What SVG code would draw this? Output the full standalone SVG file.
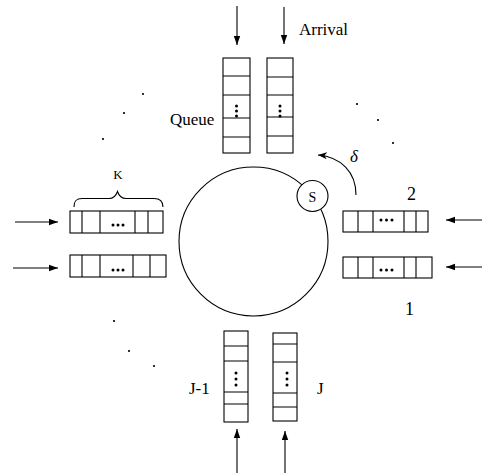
<svg xmlns="http://www.w3.org/2000/svg" width="482" height="473" viewBox="0 0 482 473">
<defs>
<marker id="ah" markerWidth="10" markerHeight="8" refX="9" refY="4" orient="auto" markerUnits="userSpaceOnUse">
<path d="M0,0.8 L9,4 L0,7.2 Z" fill="#000"/>
</marker>
<marker id="ah2" markerWidth="10" markerHeight="8" refX="9" refY="4" orient="auto" markerUnits="userSpaceOnUse">
<path d="M0,0.5 L9,4 L0,7.5 L2.5,4 Z" fill="#000"/>
</marker>
</defs>
<style>
.q{fill:#fff;stroke:#000;stroke-width:1.1}
.ln{stroke:#000;stroke-width:1.1;fill:none}
.ar{stroke:#000;stroke-width:1.1;fill:none;marker-end:url(#ah)}
.t{font-family:"Liberation Serif","Times New Roman",serif;fill:#000}
.d{fill:#000}
</style>
<rect width="482" height="473" fill="#fff"/>

<g id="server-ring">
<circle cx="253.5" cy="241.5" r="74.5" class="ln"/>
</g>
<g id="server-S">
<circle cx="312.5" cy="196" r="15.5" fill="#fff" stroke="#000" stroke-width="1.1"/>
<text x="312.5" y="201.5" class="t" font-size="14" text-anchor="middle">S</text>
</g>

<g id="queue-top-left">
<rect x="223" y="58" width="27" height="95" class="q"/>
<path d="M223,76H250M223,95H250M223,118H250M223,137H250" class="ln"/>
<circle cx="236.5" cy="106" r="1.5" class="d"/><circle cx="236.5" cy="111" r="1.5" class="d"/><circle cx="236.5" cy="116" r="1.5" class="d"/>
</g>
<g id="queue-top-right">
<rect x="267" y="58" width="26" height="95" class="q"/>
<path d="M267,77H293M267,95H293M267,117H293M267,136H293" class="ln"/>
<circle cx="280" cy="106" r="1.5" class="d"/><circle cx="280" cy="111" r="1.5" class="d"/><circle cx="280" cy="116" r="1.5" class="d"/>
</g>

<g id="queue-left-1">
<rect x="70" y="211" width="93" height="22" class="q"/>
<path d="M82,211V233M100,211V233M135,211V233M148,211V233" class="ln"/>
<circle cx="113" cy="225" r="1.5" class="d"/><circle cx="118" cy="225" r="1.5" class="d"/><circle cx="123" cy="225" r="1.5" class="d"/>
</g>
<g id="queue-left-2">
<rect x="70" y="255" width="96" height="22" class="q"/>
<path d="M82,255V277M100,255V277M133,255V277M150,255V277" class="ln"/>
<circle cx="113" cy="270" r="1.5" class="d"/><circle cx="118" cy="270" r="1.5" class="d"/><circle cx="123" cy="270" r="1.5" class="d"/>
</g>

<g id="queue-right-2">
<rect x="343" y="211" width="85" height="21" class="q"/>
<path d="M358,211V232M373,211V232M404,211V232M416,211V232" class="ln"/>
<circle cx="381" cy="220" r="1.5" class="d"/><circle cx="386.5" cy="220" r="1.5" class="d"/><circle cx="392" cy="220" r="1.5" class="d"/>
</g>
<g id="queue-right-1">
<rect x="343" y="257" width="89" height="21" class="q"/>
<path d="M358,257V278M373,257V278M404,257V278M416,257V278" class="ln"/>
<circle cx="381" cy="270" r="1.5" class="d"/><circle cx="386.5" cy="270" r="1.5" class="d"/><circle cx="392" cy="270" r="1.5" class="d"/>
</g>

<g id="queue-bottom-left">
<rect x="224" y="331" width="24" height="91" class="q"/>
<path d="M224,346H248M224,361H248M224,392H248M224,404H248" class="ln"/>
<circle cx="236" cy="373" r="1.5" class="d"/><circle cx="236" cy="379" r="1.5" class="d"/><circle cx="236" cy="385" r="1.5" class="d"/>
</g>
<g id="queue-bottom-right">
<rect x="273" y="333" width="24" height="88" class="q"/>
<path d="M273,344H297M273,362H297M273,393H297M273,407H297" class="ln"/>
<circle cx="287" cy="373" r="1.5" class="d"/><circle cx="287" cy="379" r="1.5" class="d"/><circle cx="287" cy="385" r="1.5" class="d"/>
</g>

<g id="connectors">
<path d="M237,6V45" class="ar"/>
<path d="M284,7V44" class="ar"/>
<path d="M15,222H58" class="ar"/>
<path d="M13,268H58" class="ar"/>
<path d="M482,220H446" class="ar"/>
<path d="M482,267H446" class="ar"/>
<path d="M237,473V429" class="ar"/>
<path d="M285,473V431" class="ar"/>
<path d="M356,195C356,172 341,157 318,155" class="ln" marker-end="url(#ah2)"/>
<path d="M74,207C74,201 76,198.5 82,198.5H109C114,198.5 116,196 117.5,191.5C119,196 121,198.5 126,198.5H154C160,198.5 163,201 163,207" class="ln"/>
</g>

<g id="labels">
<text x="299" y="35" class="t" font-size="17">Arrival</text>
<text x="170" y="125" class="t" font-size="17">Queue</text>
<text x="118" y="179" class="t" font-size="13" text-anchor="middle">K</text>
<text x="407" y="200" class="t" font-size="18">2</text>
<text x="405" y="315" class="t" font-size="18">1</text>
<text x="189" y="394" class="t" font-size="17">J-1</text>
<text x="317" y="394" class="t" font-size="17">J</text>
<text x="350" y="162" class="t" font-size="17" font-style="italic">δ</text>
</g>

<g id="ellipsis-dots">
<circle cx="357" cy="104" r="1.1" class="d"/><circle cx="378" cy="120" r="1.1" class="d"/><circle cx="393" cy="143" r="1.1" class="d"/>
<circle cx="143" cy="94" r="1.1" class="d"/><circle cx="124" cy="113" r="1.1" class="d"/><circle cx="103" cy="139" r="1.1" class="d"/>
<circle cx="114" cy="321" r="1.1" class="d"/><circle cx="129" cy="351" r="1.1" class="d"/><circle cx="154" cy="366" r="1.1" class="d"/>
</g>
</svg>
